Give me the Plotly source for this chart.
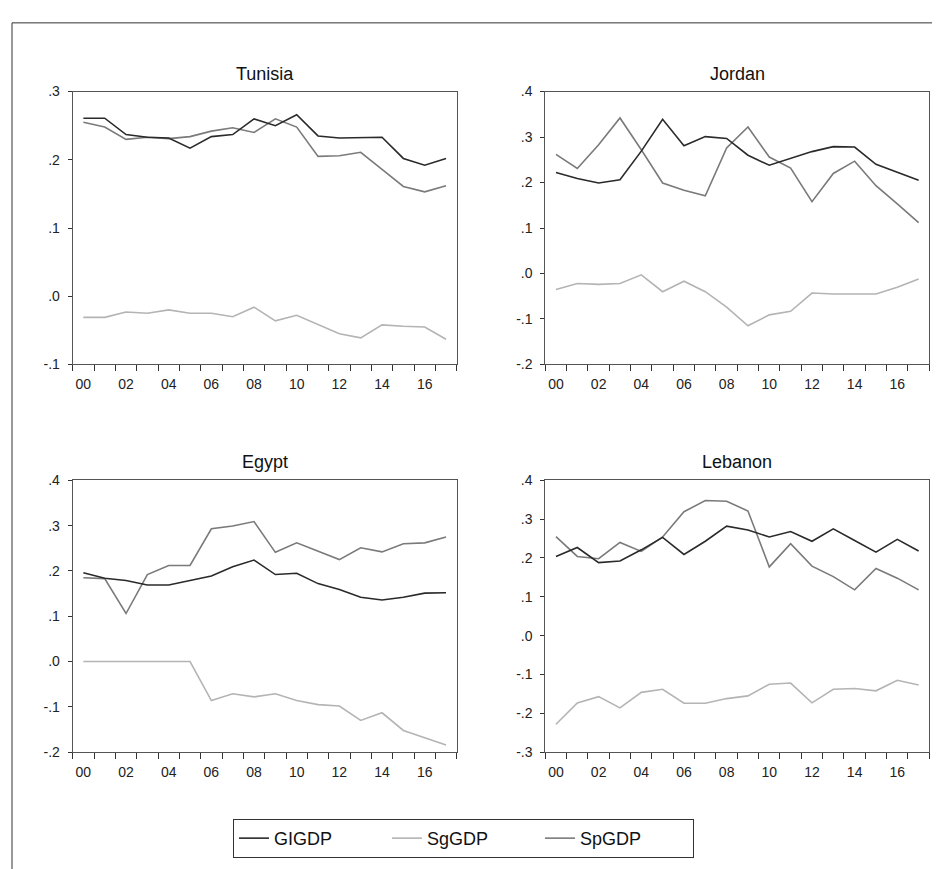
import plotly.graph_objects as go

years = list(range(2000, 2018))
tick_years = list(range(2000, 2017, 2))
tick_text = ["00", "02", "04", "06", "08", "10", "12", "14", "16"]

countries = ["Tunisia", "Jordan", "Egypt", "Lebanon"]

# Tunisia
tun_gi = [0.261, 0.261, 0.237, 0.233, 0.232, 0.217, 0.234, 0.237, 0.260, 0.250,
          0.266, 0.235, 0.232, 0.232, 0.233, 0.202, 0.192, 0.202]
tun_sg = [-0.031, -0.031, -0.023, -0.025, -0.020, -0.025, -0.025, -0.030, -0.016, -0.036,
          -0.028, -0.041, -0.055, -0.061, -0.042, -0.044, -0.045, -0.063]
tun_sp = [0.255, 0.248, 0.230, 0.233, 0.231, 0.234, 0.242, 0.247, 0.240, 0.260,
          0.248, 0.205, 0.206, 0.211, 0.186, 0.161, 0.153, 0.162]

# Jordan
jor_gi = [0.222, 0.209, 0.199, 0.206, 0.269, 0.339, 0.281, 0.301, 0.297, 0.260,
          0.238, 0.253, 0.268, 0.279, 0.278, 0.240, 0.222, 0.205]
jor_sg = [-0.035, -0.022, -0.024, -0.022, -0.003, -0.040, -0.017, -0.040, -0.074, -0.115,
          -0.091, -0.083, -0.043, -0.045, -0.045, -0.045, -0.030, -0.012]
jor_sp = [0.262, 0.231, 0.283, 0.342, 0.272, 0.199, 0.183, 0.171, 0.276, 0.322,
          0.256, 0.232, 0.158, 0.220, 0.247, 0.193, 0.153, 0.112]

# Egypt
egy_gi = [0.196, 0.184, 0.179, 0.169, 0.169, 0.179, 0.189, 0.209, 0.224, 0.192,
          0.195, 0.172, 0.159, 0.142, 0.136, 0.142, 0.151, 0.152]
egy_sg = [0.000, 0.000, 0.000, 0.000, 0.000, 0.000, -0.086, -0.071, -0.078, -0.071,
          -0.086, -0.095, -0.098, -0.130, -0.113, -0.152, -0.168, -0.184]
egy_sp = [0.185, 0.183, 0.106, 0.192, 0.212, 0.212, 0.293, 0.299, 0.309, 0.241,
          0.262, 0.243, 0.225, 0.251, 0.242, 0.260, 0.262, 0.275]

# Lebanon
leb_gi = [0.204, 0.227, 0.188, 0.192, 0.221, 0.253, 0.209, 0.243, 0.282, 0.272,
          0.254, 0.268, 0.243, 0.275, 0.245, 0.215, 0.248, 0.218]
leb_sg = [-0.228, -0.173, -0.157, -0.186, -0.146, -0.138, -0.174, -0.174, -0.162, -0.155,
          -0.125, -0.122, -0.173, -0.138, -0.136, -0.142, -0.115, -0.127]
leb_sp = [0.255, 0.204, 0.198, 0.240, 0.217, 0.254, 0.319, 0.348, 0.346, 0.321,
          0.177, 0.237, 0.179, 0.152, 0.118, 0.173, 0.148, 0.118]

series_names = ["GIGDP", "SgGDP", "SpGDP"]
series_colors = {"GIGDP": "#2a2a2a", "SgGDP": "#b4b4b4", "SpGDP": "#7a7a7a"}

data = {
    "Tunisia": {"GIGDP": tun_gi, "SgGDP": tun_sg, "SpGDP": tun_sp},
    "Jordan": {"GIGDP": jor_gi, "SgGDP": jor_sg, "SpGDP": jor_sp},
    "Egypt": {"GIGDP": egy_gi, "SgGDP": egy_sg, "SpGDP": egy_sp},
    "Lebanon": {"GIGDP": leb_gi, "SgGDP": leb_sg, "SpGDP": leb_sp},
}

y_ranges = {"Tunisia": (-0.1, 0.3), "Jordan": (-0.2, 0.4),
            "Egypt": (-0.2, 0.4), "Lebanon": (-0.3, 0.4)}

W, H = 940, 869


def px_x(p):
    return p / W


def px_y(p):
    return 1 - p / H


col_px = [(64.7, 448.7), (537.3, 921.3)]
row_px = [(77, 355), (473, 750)]

fig = go.Figure()
font_family = "Liberation Sans, Arial, sans-serif"
axis_color = "#555555"
tick_color = "#333333"
x_range = [1999.5, 2017.5]
boundary_ticks = [1999.5 + i for i in range(19)]

annotations = []
for idx, c in enumerate(countries):
    r, col = divmod(idx, 2)
    n = idx + 1
    xa = "x" if n == 1 else f"x{n}"
    ya = "y" if n == 1 else f"y{n}"
    xl = f"x{n + 4}"  # overlay axis carrying the year labels
    for s in ["SgGDP", "SpGDP", "GIGDP"]:
        fig.add_trace(go.Scatter(
            x=years, y=data[c][s], mode="lines", name=s,
            line=dict(color=series_colors[s], width=1.6),
            xaxis=(xl if s == "GIGDP" else xa), yaxis=ya,
            showlegend=(idx == 0),
            legendrank={"GIGDP": 1, "SgGDP": 2, "SpGDP": 3}[s],
        ))
    lo, hi = y_ranges[c]
    k0 = round(lo * 10)
    k1 = round(hi * 10)
    yvals = [k / 10 for k in range(k0, k1 + 1)]
    ytext = []
    for k in range(k0, k1 + 1):
        if k < 0:
            ytext.append("-." + str(-k))
        else:
            ytext.append("." + str(k))
    x0, x1 = col_px[col]
    y0, y1 = row_px[r]
    xkey = "xaxis" if n == 1 else f"xaxis{n}"
    ykey = "yaxis" if n == 1 else f"yaxis{n}"
    xlkey = f"xaxis{n + 4}"
    fig.update_layout({
        xkey: dict(
            domain=[px_x(x0), px_x(x1)], anchor=ya,
            range=x_range, tickmode="array", tickvals=boundary_ticks,
            showticklabels=False,
            ticks="outside", ticklen=6, tickcolor=tick_color, tickwidth=1,
            showgrid=False, zeroline=False, showline=True, mirror=True,
            linecolor=axis_color, linewidth=1,
        ),
        xlkey: dict(
            overlaying=xa, anchor=ya, side="bottom",
            domain=[px_x(x0), px_x(x1)],
            range=x_range, tickmode="array",
            tickvals=tick_years, ticktext=tick_text,
            ticks="outside", ticklen=7, tickcolor="rgba(0,0,0,0)",
            showgrid=False, zeroline=False, showline=False,
            tickfont=dict(family=font_family, size=14, color="#222"),
        ),
        ykey: dict(
            domain=[px_y(y1), px_y(y0)], anchor=xa,
            range=[lo, hi], tickmode="array", tickvals=yvals, ticktext=ytext,
            ticks="outside", ticklen=4, tickcolor=tick_color,
            ticklabelstandoff=5,
            showgrid=False, zeroline=False, showline=True, mirror=True,
            linecolor=axis_color, linewidth=1,
            tickfont=dict(family=font_family, size=14, color="#222"),
        ),
    })
    annotations.append(dict(
        text=c, x=px_x((x0 + x1) / 2), y=px_y(y0 - 6),
        xref="paper", yref="paper", xanchor="center", yanchor="bottom",
        showarrow=False, font=dict(family=font_family, size=18, color="#111"),
    ))

fig.update_layout(
    width=W, height=H,
    margin=dict(l=0, r=0, t=0, b=0),
    paper_bgcolor="white", plot_bgcolor="white",
    annotations=annotations,
    shapes=[dict(type="rect", xref="paper", yref="paper",
                 x0=px_x(4), x1=px_x(936), y0=-0.05, y1=px_y(7),
                 line=dict(color="#333", width=1))],
    legend=dict(
        orientation="h", x=px_x(455.5), xanchor="center",
        y=px_y(818), yanchor="top",
        bordercolor="#333", borderwidth=1, bgcolor="white",
        font=dict(family=font_family, size=18, color="#111"),
        entrywidth=108, entrywidthmode="pixels",
        traceorder="normal",
    ),
)

fig.write_html("out.html")
